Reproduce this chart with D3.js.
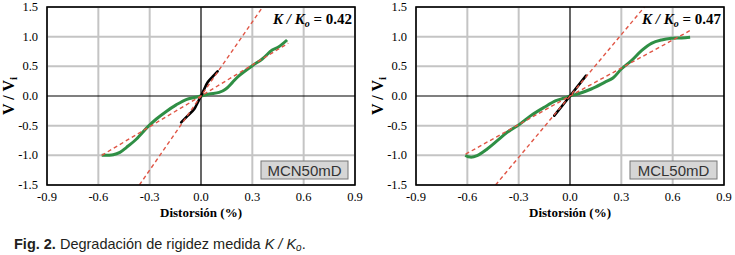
<!DOCTYPE html>
<html lang="en">
<head>
  <meta charset="utf-8">
  <title>Degradacion de rigidez</title>
  <script src="https://d3js.org/d3.v7.min.js"></script>
  <style>
    body { margin: 0; background: #fff; }
    svg { display: block; }
  </style>
</head>
<body>
<script>
  // data
  var xTicks = [-0.9, -0.6, -0.3, 0.0, 0.3, 0.6, 0.9];
  var yTicks = [-1.5, -1.0, -0.5, 0.0, 0.5, 1.0, 1.5];

  var greenA = [[-0.58,-1.0],[-0.513,-0.99],[-0.474,-0.95],[-0.435,-0.865],[-0.377,-0.725],[-0.31,-0.517],
    [-0.261,-0.388],[-0.203,-0.26],[-0.145,-0.15],[-0.087,-0.06],[-0.04,-0.025],[0,0],[0.048,0.034],
    [0.106,0.06],[0.145,0.118],[0.184,0.23],[0.223,0.343],[0.3,0.51],[0.358,0.624],[0.416,0.775],
    [0.455,0.83],[0.503,0.944]];
  var blackA = [[-0.116,-0.444],[-0.077,-0.331],[-0.039,-0.219],[-0.019,-0.107],[0,0],[0.019,0.118],
    [0.039,0.23],[0.068,0.326],[0.097,0.416]];
  var initialA = [[-0.36,-1.5],[0.36,1.5]];
  var secantA = [[-0.58,-1.0],[0,0],[0.51,0.89]];

  var greenB = [[-0.612,-1.0],[-0.582,-1.03],[-0.543,-1.005],[-0.484,-0.893],[-0.425,-0.753],[-0.367,-0.612],
    [-0.298,-0.483],[-0.229,-0.331],[-0.151,-0.191],[-0.082,-0.079],[-0.033,-0.034],[0,0],[0.045,0.034],
    [0.124,0.118],[0.202,0.23],[0.251,0.303],[0.3,0.455],[0.359,0.596],[0.418,0.764],[0.476,0.888],
    [0.535,0.944],[0.594,0.972],[0.653,0.978],[0.702,0.989]];
  var blackB = [[-0.092,-0.331],[0,0],[0.094,0.343]];
  var initialB = [[-0.435,-1.5],[0.435,1.5]];
  var secantB = [[-0.61,-0.98],[0,0],[0.7,1.1]];

  var panels = [
    {left: 47, name: "MCN50mD", ratio: "0.42", green: greenA, black: blackA, initial: initialA, secant: secantA},
    {left: 416, name: "MCL50mD", ratio: "0.47", green: greenB, black: blackB, initial: initialB, secant: secantB}
  ];

  var W = 735, H = 255;
  var pw = 308, pTop = 7, ph = 178;

  var fmt = function(d) { return d.toFixed(1); };

  var svg = d3.select("body").append("svg")
    .attr("width", W).attr("height", H);

  panels.forEach(function(p, i) {
    var x = d3.scaleLinear().domain([-0.9, 0.9]).range([p.left, p.left + pw]);
    var y = d3.scaleLinear().domain([-1.5, 1.5]).range([pTop + ph, pTop]);
    var g = svg.append("g");
    var clipId = "clip" + i;
    g.append("clipPath").attr("id", clipId)
      .append("rect").attr("x", p.left).attr("y", pTop).attr("width", pw).attr("height", ph);

    // grid
    g.selectAll(".gx").data(xTicks.filter(function(d) { return d != 0; })).enter().append("line")
      .attr("x1", function(d) { return x(d); }).attr("x2", function(d) { return x(d); })
      .attr("y1", pTop).attr("y2", pTop + ph)
      .attr("stroke", "#c4c4c4").attr("stroke-width", 2);
    g.selectAll(".gy").data(yTicks.filter(function(d) { return d != 0; })).enter().append("line")
      .attr("y1", function(d) { return y(d); }).attr("y2", function(d) { return y(d); })
      .attr("x1", p.left).attr("x2", p.left + pw)
      .attr("stroke", "#c4c4c4").attr("stroke-width", 2);
    // zero lines
    g.append("line").attr("x1", x(0)).attr("x2", x(0)).attr("y1", pTop).attr("y2", pTop + ph)
      .attr("stroke", "#000").attr("stroke-width", 1.2);
    g.append("line").attr("y1", y(0)).attr("y2", y(0)).attr("x1", p.left).attr("x2", p.left + pw)
      .attr("stroke", "#000").attr("stroke-width", 1.2);

    var line = d3.line().x(function(d) { return x(d[0]); }).y(function(d) { return y(d[1]); });
    var curve = d3.line().curve(d3.curveCatmullRom)
      .x(function(d) { return x(d[0]); }).y(function(d) { return y(d[1]); });

    var plot = g.append("g").attr("clip-path", "url(#" + clipId + ")");
    plot.append("path").attr("d", curve(p.green)).attr("fill", "none")
      .attr("stroke", "#2f8f45").attr("stroke-width", 3).attr("stroke-linejoin", "round");
    plot.append("path").attr("d", curve(p.black)).attr("fill", "none")
      .attr("stroke", "#000").attr("stroke-width", 2.6).attr("stroke-linecap", "round");
    [p.initial, p.secant].forEach(function(s) {
      plot.append("path").attr("d", line(s)).attr("fill", "none")
        .attr("stroke", "#e05545").attr("stroke-width", 1.4).attr("stroke-dasharray", "4,3");
    });

    // border
    g.append("rect").attr("x", p.left).attr("y", pTop).attr("width", pw).attr("height", ph)
      .attr("fill", "none").attr("stroke", "#000").attr("stroke-width", 1.6);

    // tick labels
    g.selectAll(".tx").data(xTicks).enter().append("text")
      .attr("x", function(d) { return x(d); }).attr("y", 201)
      .attr("text-anchor", "middle")
      .style("font", "12.5px 'Liberation Serif', serif")
      .text(fmt);
    g.selectAll(".ty").data(yTicks).enter().append("text")
      .attr("x", p.left - 9).attr("y", function(d) { return y(d) + 4; })
      .attr("text-anchor", "end")
      .style("font", "12.5px 'Liberation Serif', serif")
      .text(fmt);

    // axis titles
    g.append("text").attr("x", x(0)).attr("y", 217).attr("text-anchor", "middle")
      .style("font", "bold 13px 'Liberation Serif', serif")
      .text("Distorsión (%)");
    var yl = g.append("text")
      .attr("transform", "translate(" + (p.left - 33) + "," + y(0) + ") rotate(-90)")
      .attr("text-anchor", "middle")
      .style("font", "bold 16px 'Liberation Serif', serif");
    yl.append("tspan").text("V / V");
    yl.append("tspan").attr("font-size", 11).attr("dy", 3).text("i");

    // K / Ko annotation
    var kt = g.append("text").attr("x", p.left + pw - 3).attr("y", 24).attr("text-anchor", "end")
      .style("font", "bold 15px 'Liberation Serif', serif");
    kt.append("tspan").attr("font-style", "italic").text("K / K");
    kt.append("tspan").attr("font-style", "italic").attr("font-size", 10).attr("dy", 3).text("o");
    kt.append("tspan").attr("dy", -3).text(" = " + p.ratio);

    // specimen label box
    g.append("rect").attr("x", p.left + pw - 94).attr("y", 161).attr("width", 87).attr("height", 18)
      .attr("fill", "#d6d6d6").attr("stroke", "#777").attr("stroke-width", 1);
    g.append("text").attr("x", p.left + pw - 50.5).attr("y", 175.5).attr("text-anchor", "middle")
      .style("font", "15px 'Liberation Sans', Arial, sans-serif").attr("fill", "#333")
      .text(p.name);
  });

  // caption
  var cap = svg.append("text").attr("x", 14).attr("y", 249)
    .style("font", "14.5px 'Liberation Sans', Arial, sans-serif").attr("fill", "#231f20");
  cap.append("tspan").attr("font-weight", "bold").text("Fig. 2.");
  cap.append("tspan").text(" Degradación de rigidez medida ");
  cap.append("tspan").attr("font-style", "italic").text("K / K");
  cap.append("tspan").attr("font-style", "italic").attr("font-size", 10).attr("dy", 2).text("o");
  cap.append("tspan").attr("dy", -2).text(".");
</script>
</body>
</html>
